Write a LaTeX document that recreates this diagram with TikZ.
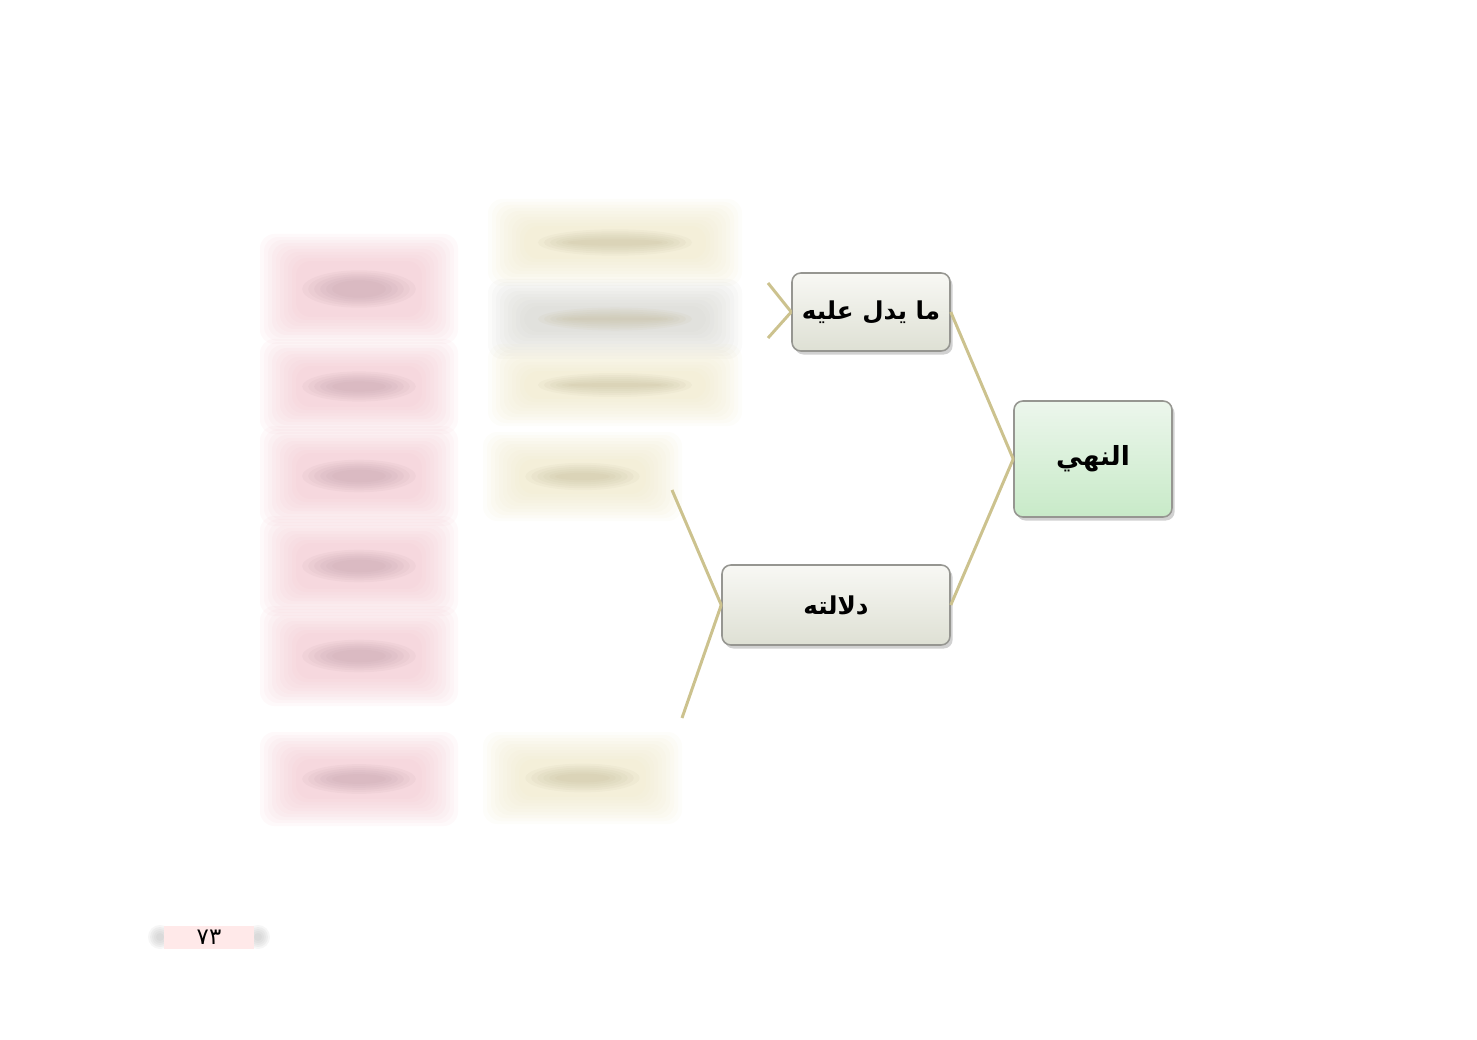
\documentclass[tikz,border=0pt]{standalone}
\usepackage{fontspec}
\newfontfamily\arabicfont[Script=Arabic]{DejaVu Sans}
\TeXXeTstate=1
\usepackage{tikz}
\usetikzlibrary{positioning, shadows, calc}

\definecolor{linkline}{RGB}{204,194,142}
\definecolor{boxgrey}{RGB}{150,150,145}
\definecolor{pinkbox}{RGB}{240,190,200}
\definecolor{pinksmudge}{RGB}{185,150,160}
\definecolor{beigebox}{RGB}{236,228,192}
\definecolor{beigesmudge}{RGB}{190,180,145}
\definecolor{greysmudge}{RGB}{205,205,198}
\definecolor{topictop}{RGB}{248,248,244}
\definecolor{topicbottom}{RGB}{222,224,212}
\definecolor{nahytop}{RGB}{236,246,236}
\definecolor{nahybottom}{RGB}{200,234,200}

% soft box: x1, y1, x2, y2, box colour, smudge colour
\newcommand\softbox[6]{%
  \foreach \g in {0,...,9}{%
    \fill[#5, opacity=0.085, rounded corners=8]
      ({#1-20+4*\g},{#2-16+3*\g}) rectangle ({#3+20-4*\g},{#4+16-3*\g});
  }%
  \foreach \g in {0,...,5}{%
    \fill[#6, opacity=0.09]
      ({(#1+#3)/2},{(#2+#4)/2}) ellipse ({(#3-#1)*0.36-6*\g} and {(#4-#2)*0.24-2*\g});
  }%
}

\begin{document}
\begin{tikzpicture}[
  x=0.02cm, y=-0.02cm,
  topic/.style={
    draw=boxgrey, rounded corners=5pt, line width=0.9pt,
    align=center, font=\arabicfont\bfseries\fontsize{14}{17}\selectfont,
    drop shadow={shadow xshift=1.5pt, shadow yshift=-2pt,
                 fill=black!40, opacity=0.45}
  },
  link/.style={draw=linkline, line width=1.7pt}
]
\useasboundingbox (0,0) rectangle (1477,1040);

% ---- faded boxes on the left ----
\softbox{280}{250}{438}{328}{pinkbox}{pinksmudge}
\softbox{280}{355}{438}{418}{pinkbox}{pinksmudge}
\softbox{280}{442}{438}{510}{pinkbox}{pinksmudge}
\softbox{280}{532}{438}{600}{pinkbox}{pinksmudge}
\softbox{280}{622}{438}{690}{pinkbox}{pinksmudge}
\softbox{280}{748}{438}{810}{pinkbox}{pinksmudge}

\softbox{508}{215}{722}{270}{beigebox}{beigesmudge}
\softbox{508}{295}{722}{343}{greysmudge}{beigesmudge}
\softbox{508}{360}{722}{410}{beigebox}{beigesmudge}
\softbox{503}{448}{662}{505}{beigebox}{beigesmudge}
\softbox{503}{748}{662}{808}{beigebox}{beigesmudge}

% ---- main topics ----
\node[topic, top color=nahytop, bottom color=nahybottom,
      minimum width=3.16cm, minimum height=2.32cm,
      font=\arabicfont\bfseries\fontsize{15}{18}\selectfont] (nahy) at (1093,459)
  {\beginR النهي\endR};

\node[topic, top color=topictop, bottom color=topicbottom,
      minimum width=3.16cm, minimum height=1.56cm] (dalil) at (871,312)
  {\beginR ما يدل عليه\endR};

\node[topic, top color=topictop, bottom color=topicbottom,
      minimum width=4.56cm, minimum height=1.6cm] (dalala) at (836,605)
  {\beginR دلالته\endR};

% ---- free ends into the faded boxes ----
\coordinate (dalilup) at (768,283);
\coordinate (dalildown) at (768,338);
\coordinate (dalalaup) at (672,490);
\coordinate (dalaladown) at (682,718);

% ---- connectors ----
\draw[link] (nahy.west) -- (dalil.east);
\draw[link] (nahy.west) -- (dalala.east);
\draw[link] (dalil.west) -- (dalilup);
\draw[link] (dalil.west) -- (dalildown);
\draw[link] (dalala.west) -- (dalalaup);
\draw[link] (dalala.west) -- (dalaladown);

% ---- page number ----
\foreach \g in {0,...,4}{%
  \fill[gray!60, opacity=0.12] (160,937) circle ({12-2*\g});
  \fill[gray!60, opacity=0.12] (258,937) circle ({12-2*\g});
}
\node[fill=pink!35, minimum width=1.8cm, minimum height=0.46cm,
      inner sep=0pt, font=\arabicfont\fontsize{13}{14}\selectfont] (page) at (209,937)
  {٧٣};

\end{tikzpicture}
\end{document}
